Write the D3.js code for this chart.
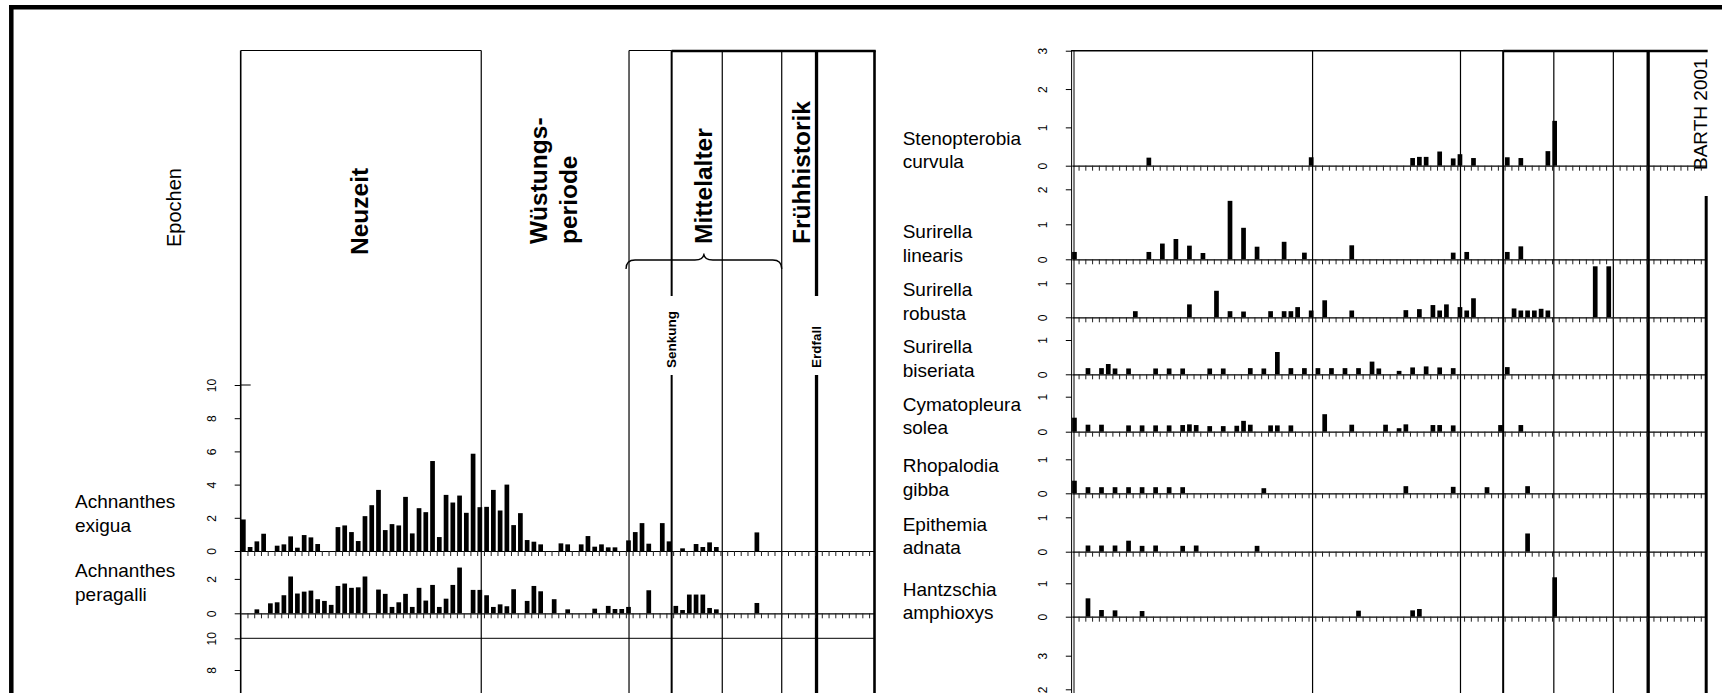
<!DOCTYPE html>
<html><head><meta charset="utf-8">
<script src="https://cdn.jsdelivr.net/npm/d3@7"></script>
<style>
html,body{margin:0;padding:0;background:#fff;}
svg{display:block;font-family:"Liberation Sans",Arial,sans-serif;}
</style></head><body>
<svg id="c" width="1722" height="693"></svg>
<script>
// ================= DATA =================
const sampleDomain = [0, 93.8];                 // sample axis (shared by both panels)
const zoneBounds = [35.6, 57.47, 63.78, 71.27, 80.07, 85.22, 93.8];
const epochLabels = [["Neuzeit"], ["Wüstungs-", "periode"], ["Mittelalter"], ["Frühhistorik"]];
const eventLabels = ["Senkung", "Erdfall"];
const axisTitle = "Epochen";
const credit = "BARTH 2001";

// [sample index, value]
const achnanthesExigua = [[0,1.9],[1,0.24],[2,0.58],[3,1.04],[5,0.32],[6,0.4],[7,0.88],[8,0.2],[9,0.96],[10,0.82],[11,0.42],
  [14,1.44],[15,1.54],[16,1.14],[17,0.6],[18,2.1],[19,2.76],[20,3.68],[21,1.26],[22,1.62],[23,1.54],[24,3.26],[25,1.06],
  [26,2.58],[27,2.34],[28,5.42],[29,0.84],[30,3.38],[31,2.92],[32,3.34],[33,2.3],[34,5.86],[35,2.64],[36,2.66],[37,3.68],
  [38,2.44],[39,4.0],[40,1.56],[41,2.28],[42,0.66],[43,0.56],[44,0.4],[47,0.46],[48,0.4],[50,0.4],[51,0.9],[52,0.26],
  [53,0.4],[54,0.22],[55,0.22],[57,0.64],[58,1.14],[59,1.68],[60,0.44],[62,1.68],[63,0.58],[65,0.16],[67,0.42],[68,0.24],
  [69,0.52],[70,0.24],[76,1.12]];
const achnanthesPeragalli = [[2,0.23],[4,0.58],[5,0.64],[6,1.05],[7,2.14],[8,1.15],[9,1.26],[10,1.32],[11,0.82],[12,0.72],
  [13,0.49],[14,1.59],[15,1.73],[16,1.48],[17,1.51],[18,2.14],[20,1.38],[21,1.13],[22,0.37],[23,0.64],[24,1.13],[25,0.37],
  [26,1.48],[27,0.74],[28,1.65],[29,0.37],[30,0.85],[31,1.65],[32,2.66],[34,1.36],[35,1.36],[36,1.05],[37,0.37],[38,0.52],
  [39,0.41],[40,1.4],[42,0.72],[43,1.59],[44,1.28],[46,0.82],[48,0.23],[52,0.27],[54,0.43],[55,0.25],[56,0.25],[57,0.37],
  [60,1.34],[64,0.43],[65,0.19],[66,1.09],[67,1.09],[68,1.09],[69,0.31],[70,0.23],[76,0.6]];
const stenopterobiaCurvula = [[11,0.21],[35,0.22],[50,0.2],[51,0.23],[52,0.23],[54,0.37],[56,0.19],[57,0.3],[59,0.2],
  [64,0.22],[66,0.2],[70,0.38],[71,1.17]];
const surirellaLinearis = [[0,0.21],[11,0.21],[13,0.45],[15,0.58],[17,0.39],[19,0.18],[23,1.67],[25,0.9],[27,0.36],[31,0.5],
  [34,0.19],[41,0.4],[56,0.19],[58,0.21],[64,0.21],[66,0.37]];
const surirellaRobusta = [[9,0.18],[17,0.38],[21,0.78],[23,0.18],[25,0.17],[29,0.18],[31,0.18],[32,0.18],[33,0.3],[35,0.2],
  [37,0.5],[41,0.2],[49,0.21],[51,0.24],[53,0.36],[54,0.2],[55,0.38],[57,0.3],[58,0.2],[59,0.56],[65,0.26],[66,0.2],[67,0.2],
  [68,0.2],[69,0.25],[70,0.2],[77,1.5],[79,1.5]];
const surirellaBiseriata = [[2,0.18],[4,0.18],[5,0.3],[6,0.17],[8,0.17],[12,0.17],[14,0.17],[16,0.17],[20,0.17],[22,0.17],
  [26,0.18],[28,0.17],[30,0.65],[32,0.18],[34,0.18],[36,0.18],[38,0.18],[40,0.18],[42,0.18],[44,0.37],[45,0.17],[48,0.1],
  [50,0.2],[52,0.23],[54,0.2],[56,0.18],[64,0.21]];
const cymatopleuraSolea = [[0,0.4],[2,0.2],[4,0.2],[8,0.18],[10,0.18],[12,0.18],[14,0.18],[16,0.19],[17,0.21],[18,0.19],
  [20,0.16],[22,0.16],[24,0.17],[25,0.31],[26,0.2],[29,0.18],[30,0.18],[32,0.18],[37,0.5],[41,0.2],[46,0.2],[48,0.1],
  [49,0.21],[53,0.19],[54,0.19],[56,0.18],[63,0.19],[66,0.19]];
const rhopalodiaGibba = [[0,0.37],[2,0.18],[4,0.18],[6,0.18],[8,0.18],[10,0.18],[12,0.18],[14,0.18],[16,0.18],[28,0.15],
  [49,0.21],[56,0.19],[61,0.18],[67,0.21]];
const epithemiaAdnata = [[2,0.18],[4,0.18],[6,0.18],[8,0.32],[10,0.17],[12,0.18],[16,0.17],[18,0.18],[27,0.17],[67,0.53]];
const hantzschiaAmphioxys = [[2,0.55],[4,0.2],[6,0.19],[10,0.17],[42,0.18],[50,0.19],[51,0.23],[71,1.18]];

const ticksExigua = [0,2,4,6,8,10];
const ticksPeragalli = [0,2];
const ticksLowerLeft = [10,8];
const ticksCurvula = [0,1,2,3];
const ticksLinearis = [0,1,2];
const ticksUnit = [0,1];
const ticksLowerRight = [3,2];

// ================= LAYOUT =================
const svg = d3.select("#c");
const FONT = '"Liberation Sans",Arial,sans-serif';
const LX = d3.scaleLinear().domain(sampleDomain).range([240.7, 874.5]);
const RX = d3.scaleLinear().domain(sampleDomain).range([1071.8, 1706.2]);
const sampleTicks = d3.range(1, 94);

function line(x1, y1, x2, y2, w) {
  svg.append("line").attr("x1", x1).attr("y1", y1).attr("x2", x2).attr("y2", y2)
    .attr("stroke", "#000").attr("stroke-width", w);
}
function vtext(str, x, y, size, weight, anchor) {
  svg.append("text").attr("transform", `translate(${x},${y}) rotate(-90)`)
    .attr("dy", "0.35em").attr("text-anchor", anchor || "start")
    .attr("font-size", size).attr("font-weight", weight || "normal")
    .attr("font-family", FONT).attr("fill", "#000").text(str);
}

// outer frame
line(9, 7.2, 1722, 7.2, 4.5);
line(11.3, 5, 11.3, 693, 4.5);

// ---- left panel structure ----
line(LX(0), 50.5, LX(0), 693, 1.6);
line(LX(0), 50.5, LX(zoneBounds[0]), 50.5, 1);
line(LX(zoneBounds[1]), 50.5, LX(zoneBounds[2]), 50.5, 1);
line(LX(zoneBounds[2]), 51, LX(zoneBounds[6]) + 1.2, 51, 2.5);
const zoneW = [1.2, 1.2, 2, 1.2, 1.2, 3.3, 2.6];
zoneBounds.forEach((b, i) => {
  if (i === 2 || i === 5) {
    line(LX(b), 50.5, LX(b), 296, zoneW[i]);
    line(LX(b), 375, LX(b), 693, zoneW[i]);
  } else line(LX(b), 50.5, LX(b), 693, zoneW[i]);
});

// ---- right panel structure ----
line(RX(0) - 0.2, 50.5, RX(0) - 0.2, 693, 1);
line(RX(0) + 2.2, 50.5, RX(0) + 2.2, 693, 1);
line(RX(0) - 0.7, 50.7, RX(zoneBounds[2]), 50.7, 1.5);
line(RX(zoneBounds[2]), 51, RX(zoneBounds[6]) + 1.5, 51, 2.5);
zoneBounds.forEach((b, i) => {
  line(RX(b), i === 6 ? 196 : 50.5, RX(b), 693, i === 6 ? 3 : zoneW[i]);
});

// ---- epoch labels ----
vtext(axisTitle, 174, 247, 20);
vtext(epochLabels[0][0], LX(17.6), 255, 24.5, "bold");
vtext(epochLabels[1][0], LX(44.0), 244, 24.5, "bold");
vtext(epochLabels[1][1], LX(48.5), 244, 24.5, "bold");
vtext(epochLabels[2][0], LX(68.55), 244, 24.5, "bold");
vtext(epochLabels[3][0], LX(83.0), 244, 24.5, "bold");
vtext(eventLabels[0], LX(zoneBounds[2]), 368, 13.5, "bold");
vtext(eventLabels[1], LX(zoneBounds[5]), 368, 13.5, "bold");
vtext(credit, 1700.8, 170, 19);

// brace under Mittelalter
{
  const a = LX(zoneBounds[1]) - 3, b = LX(zoneBounds[4]), m = (a + b) / 2;
  const yf = 260, ye = 269, yt = 253.5;
  const p = d3.path();
  p.moveTo(a, ye);
  p.quadraticCurveTo(a, yf, a + 9, yf);
  p.lineTo(m - 9, yf);
  p.quadraticCurveTo(m, yf, m, yt);
  p.quadraticCurveTo(m, yf, m + 9, yf);
  p.lineTo(b - 9, yf);
  p.quadraticCurveTo(b, yf, b, ye);
  svg.append("path").attr("d", p.toString()).attr("fill", "none").attr("stroke", "#000").attr("stroke-width", 1.3);
}

// ---- charts ----
function drawChart(X, c) {
  const y = d3.scaleLinear().domain([0, c.max]).range([c.base, c.base - c.max * c.unit]);
  const g = svg.append("g");
  g.selectAll("rect").data(c.data).join("rect")
    .attr("x", d => X(d[0]) + 0.3).attr("width", 4.7)
    .attr("y", d => y(Math.min(d[1], c.max)))
    .attr("height", d => c.base - y(Math.min(d[1], c.max)))
    .attr("fill", "#000");
  if (c.baseline !== false) {
    const xa = d3.axisBottom(X).tickValues(sampleTicks).tickSize(5).tickSizeOuter(0).tickFormat("");
    const bg = g.append("g").attr("transform", `translate(0,${c.base})`).call(xa);
    bg.select(".domain").attr("stroke-width", 1.2);
    bg.selectAll(".tick line").attr("stroke", "#222");
  }
  const ya = d3.axisLeft(y).tickValues(c.ticks).tickSize(6).tickSizeOuter(0).tickFormat(d3.format("d"));
  const ag = g.append("g").attr("transform", `translate(${X(0)},0)`).call(ya);
  ag.select(".domain").remove();
  ag.selectAll(".tick line").attr("stroke-width", 1);
  ag.selectAll(".tick text").attr("x", 0).attr("dy", "0.35em").attr("text-anchor", "middle")
    .attr("transform", "translate(-29,0) rotate(-90)")
    .attr("font-size", 12).attr("font-family", FONT).attr("fill", "#000");
  if (c.topTick) line(X(0), y(c.max), X(0) + 10, y(c.max), 1);
  if (c.topLine) line(X(0), y(c.max), X(sampleDomain[1]), y(c.max), 1);
  if (c.label) {
    c.label.forEach((t, i) => {
      svg.append("text").attr("x", c.lx).attr("y", c.ly[i]).attr("font-size", 19)
        .attr("font-family", FONT).attr("fill", "#000").text(t);
    });
  }
}

// left panel charts
drawChart(LX, {data: achnanthesExigua, base: 551, max: 10, unit: 16.6, ticks: ticksExigua, topTick: true,
  label: ["Achnanthes", "exigua"], lx: 75, ly: [508.3, 531.7]});
drawChart(LX, {data: achnanthesPeragalli, base: 613.3, max: 3.1, unit: 17.2, ticks: ticksPeragalli,
  label: ["Achnanthes", "peragalli"], lx: 75, ly: [576.7, 600.7]});
drawChart(LX, {data: [], base: 796.8, max: 10, unit: 15.85, ticks: ticksLowerLeft, topLine: true, baseline: false});

// right panel charts
const rightCharts = [
  {data: stenopterobiaCurvula, base: 165.7, max: 3, unit: 38.33, ticks: ticksCurvula, label: ["Stenopterobia", "curvula"]},
  {data: surirellaLinearis, base: 259.3, max: 2.5, unit: 35, ticks: ticksLinearis, label: ["Surirella", "linearis"]},
  {data: surirellaRobusta, base: 317.3, max: 1.5, unit: 34, ticks: ticksUnit, label: ["Surirella", "robusta"]},
  {data: surirellaBiseriata, base: 374.3, max: 1.5, unit: 34.3, ticks: ticksUnit, label: ["Surirella", "biseriata"]},
  {data: cymatopleuraSolea, base: 431.7, max: 1.5, unit: 35, ticks: ticksUnit, label: ["Cymatopleura", "solea"]},
  {data: rhopalodiaGibba, base: 493.3, max: 1.6, unit: 34, ticks: ticksUnit, label: ["Rhopalodia", "gibba"]},
  {data: epithemiaAdnata, base: 551.7, max: 1.5, unit: 34.4, ticks: ticksUnit, label: ["Epithemia", "adnata"]},
  {data: hantzschiaAmphioxys, base: 616.7, max: 1.7, unit: 33.4, ticks: ticksUnit, label: ["Hantzschia", "amphioxys"]}
];
rightCharts.forEach(c => {
  c.lx = 902.7;
  c.ly = [c.base + 2.3 - 23.3, c.base + 2.3];
  drawChart(RX, c);
});
drawChart(RX, {data: [], base: 756.5, max: 4, unit: 33.6, ticks: ticksLowerRight, baseline: false});
</script>
</body></html>
